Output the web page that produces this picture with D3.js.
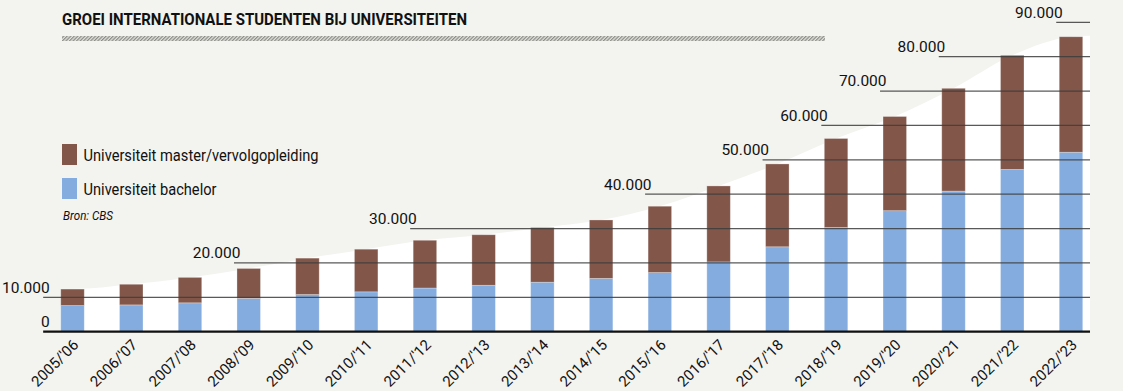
<!DOCTYPE html>
<html><head><meta charset="utf-8">
<script src="https://cdn.jsdelivr.net/npm/d3@7"></script>
<style>
html,body{margin:0;padding:0;background:#f3f3ef;}
svg{display:block;}
text{font-family:Roboto,"Open Sans",sans-serif;fill:#111;}
</style>
</head><body>
<svg id="chart" width="1123" height="391"></svg>
<script>
// ---- data ----
const categories = ["2005/'06","2006/'07","2007/'08","2008/'09","2009/'10","2010/'11","2011/'12","2012/'13","2013/'14","2014/'15","2015/'16","2016/'17","2017/'18","2018/'19","2019/'20","2020/'21","2021/'22","2022/'23"];
const bachelor = [7600,7800,8400,9700,10800,11600,12700,13500,14400,15500,17200,20300,24700,30300,35200,40900,47200,52200];
const master   = [4800,6000,7400,8700,10600,12400,13900,14700,15900,17000,19300,22100,24100,25900,27400,29900,33200,33600];
const tickValues = [0,10000,20000,30000,40000,50000,60000,70000,80000,90000];
const tickLabels = ["0","10.000","20.000","30.000","40.000","50.000","60.000","70.000","80.000","90.000"];
const tickStartCategory = [null,null,"2008/'09","2011/'12","2015/'16","2017/'18","2018/'19","2019/'20","2020/'21","2022/'23"];
const seriesNames = ["Universiteit master/vervolgopleiding","Universiteit bachelor"];
const title = "GROEI INTERNATIONALE STUDENTEN BIJ UNIVERSITEITEN";
const source = "Bron: CBS";

// ---- layout ----
const colors = {master:"#82574a", bachelor:"#84acdf", bg:"#f3f3ef"};
const svg = d3.select("#chart");
const gridEnd = 1090;

const x = d3.scaleBand().domain(categories).range([43.15, 1100.35]).paddingInner(0.6).paddingOuter(0.3);
const y = d3.scaleLinear().domain([0, 90000]).range([331.7, 22.3]);

const rows = categories.map((c,i)=>({cat:c, b:bachelor[i], m:master[i], t:bachelor[i]+master[i]}));
const stack = d3.stack().keys(["b","m"])(rows);

svg.append("rect").attr("width",1123).attr("height",391).attr("fill",colors.bg);

// hatch pattern for title rule
const defs = svg.append("defs");
const pat = defs.append("pattern").attr("id","hatch").attr("patternUnits","userSpaceOnUse")
  .attr("width",2.5).attr("height",2.5).attr("patternTransform","rotate(45)");
pat.append("rect").attr("width",2.5).attr("height",2.5).attr("fill","#e2e2dd");
pat.append("rect").attr("width",1.2).attr("height",2.5).attr("fill","#8a8a86");

// white envelope area
const envPts = [{x:x(categories[0]), v:rows[0].t}]
  .concat(rows.map(r=>({x:x(r.cat)+x.bandwidth()/2, v:r.t})))
  .concat([{x:gridEnd, v:rows[rows.length-1].t + 300}]);
svg.append("path")
  .attr("d", d3.area().x(d=>d.x).y0(y(0)).y1(d=>y(d.v)).curve(d3.curveMonotoneX)(envPts))
  .attr("fill","#ffffff");

// title
svg.append("text").attr("x",62).attr("y",25).text(title)
  .attr("font-size",16.5).attr("font-weight",700)
  .attr("textLength",405).attr("lengthAdjust","spacingAndGlyphs");
svg.append("rect").attr("x",62).attr("y",36).attr("width",763).attr("height",5).attr("fill","url(#hatch)");

// bars
const layers = svg.append("g").selectAll("g").data(stack).join("g")
  .attr("fill",(d,i)=> i===0 ? colors.bachelor : colors.master);
layers.selectAll("rect").data(d=>d).join("rect")
  .attr("x",d=>x(d.data.cat)).attr("width",x.bandwidth())
  .attr("y",d=>y(d[1])).attr("height",d=>y(d[0])-y(d[1]))
  .attr("stroke","rgba(255,255,255,0.35)").attr("stroke-width",0.8);

// gridlines + labels
const grid = svg.append("g");
tickValues.forEach((v,i)=>{
  const sc = tickStartCategory[i];
  const x0 = sc ? x(sc) - 3 : x.range()[0];
  grid.append("line").attr("x1",x0).attr("x2",gridEnd).attr("y1",y(v)).attr("y2",y(v))
    .attr("stroke", v===0 ? "#111" : "#3c3c3c").attr("stroke-width", v===0 ? 2.2 : 1.2)
    .attr("stroke-opacity", v===0 ? 1 : 0.85);
  grid.append("text").attr("x",x0+6.5).attr("y",y(v)-4.6).attr("text-anchor","end")
    .attr("font-size",15.5).text(tickLabels[i]);
});

// x axis labels
const xAxis = d3.axisBottom(x).tickSize(0).tickPadding(0);
const gx = svg.append("g").attr("transform",`translate(0,${y(0)})`).call(xAxis);
gx.select(".domain").remove();
gx.selectAll("text")
  .attr("font-size",15).attr("font-family","Roboto, sans-serif").attr("fill","#111")
  .attr("text-anchor","end").attr("dy",0)
  .attr("transform","translate(7,14) rotate(-45)");

// legend
const leg = svg.append("g");
[["master",144,seriesNames[0],235],["bachelor",178,seriesNames[1],133]].forEach(([k,yy,label,w])=>{
  leg.append("rect").attr("x",62).attr("y",yy).attr("width",15).attr("height",21).attr("fill",colors[k]);
  leg.append("text").attr("x",83.5).attr("y",yy+17).attr("font-size",17).text(label)
    .attr("textLength",w).attr("lengthAdjust","spacingAndGlyphs");
});
leg.append("text").attr("x",63).attr("y",219.5).attr("font-size",12).attr("font-style","italic")
  .text(source).attr("textLength",50).attr("lengthAdjust","spacingAndGlyphs");
</script>
</body></html>
